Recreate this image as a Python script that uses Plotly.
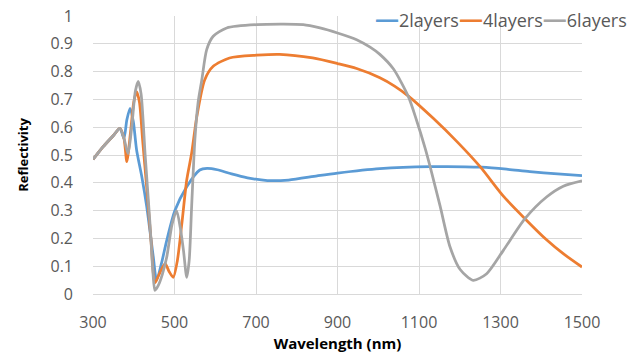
import plotly.graph_objects as go

# 2layers
wl_2 = [300, 325, 350, 366, 376, 383, 391, 399, 407, 420, 432, 448, 456, 468, 481, 501, 530, 562, 580, 605, 640, 679, 728, 780, 850, 900, 1004, 1127, 1254, 1315, 1372, 1440, 1500]
r_2 = [0.484, 0.53, 0.57, 0.596, 0.56, 0.626, 0.668, 0.62, 0.518, 0.42, 0.313, 0.133, 0.049, 0.11, 0.193, 0.30, 0.386, 0.446, 0.452, 0.447, 0.432, 0.418, 0.408, 0.41, 0.425, 0.435, 0.451, 0.458, 0.456, 0.449, 0.44, 0.432, 0.426]

# 4layers
wl_4 = [300, 325, 350, 366, 376, 383, 392, 400, 407, 414, 422, 432, 442, 452, 462, 477, 487, 497, 507, 518, 530, 542, 555, 574, 595, 635, 702, 758, 839, 900, 947, 1004, 1040, 1074, 1135, 1192, 1250, 1307, 1360, 1413, 1454, 1500]
r_4 = [0.484, 0.53, 0.57, 0.596, 0.56, 0.476, 0.58, 0.69, 0.728, 0.69, 0.55, 0.38, 0.20, 0.04, 0.07, 0.109, 0.08, 0.06, 0.12, 0.253, 0.41, 0.506, 0.64, 0.77, 0.819, 0.849, 0.859, 0.862, 0.849, 0.829, 0.811, 0.778, 0.748, 0.712, 0.632, 0.55, 0.458, 0.352, 0.271, 0.195, 0.145, 0.097]

# 6layers
wl_6 = [300, 325, 350, 366, 376, 386, 395, 404, 411, 418, 428, 440, 447, 452, 460, 470, 481, 494, 505, 514, 522, 530, 536, 542, 550, 558, 567, 579, 595, 628, 702, 816, 857, 900, 947, 980, 1004, 1037, 1074, 1094, 1115, 1127, 1152, 1176, 1201, 1233, 1266, 1307, 1360, 1413, 1454, 1500]
r_6 = [0.484, 0.53, 0.57, 0.596, 0.56, 0.505, 0.60, 0.73, 0.765, 0.72, 0.50, 0.25, 0.08, 0.013, 0.03, 0.07, 0.133, 0.25, 0.30, 0.24, 0.157, 0.06, 0.12, 0.313, 0.554, 0.69, 0.77, 0.879, 0.927, 0.957, 0.969, 0.969, 0.957, 0.939, 0.915, 0.888, 0.862, 0.81, 0.71, 0.625, 0.525, 0.46, 0.315, 0.17, 0.088, 0.049, 0.073, 0.157, 0.271, 0.349, 0.388, 0.407]

x_ticks = [300, 500, 700, 900, 1100, 1300, 1500]
y_ticks = [0, 0.1, 0.2, 0.3, 0.4, 0.5, 0.6, 0.7, 0.8, 0.9, 1]
y_tick_text = ["0", "0.1", "0.2", "0.3", "0.4", "0.5", "0.6", "0.7", "0.8", "0.9", "1"]

series = [
    ("2layers", wl_2, r_2, "#5B9BD5"),
    ("4layers", wl_4, r_4, "#ED7D31"),
    ("6layers", wl_6, r_6, "#A5A5A5"),
]

fig = go.Figure()
for name, x, y, c in series:
    fig.add_trace(go.Scatter(x=x, y=y, name=name, mode="lines", showlegend=False,
                             line=dict(color=c, width=2.75, shape="spline", smoothing=0.7)))

# legend drawn as one line of text (Excel-style compact legend)
legend_html = "".join(
    f'<span style="color:{c};font-size:24px"><b>—</b></span>{name}' for name, _, _, c in series
)
fig.add_annotation(text=legend_html, xref="paper", yref="paper",
                   x=(629 - 93) / 489, y=1.0 - 1.5 / 277.5, xanchor="right", yanchor="middle",
                   showarrow=False, font=dict(size=18, color="#595959"))

font_family = "Open Sans, Liberation Sans, sans-serif"
fig.update_layout(
    width=631, height=358,
    margin=dict(l=93, r=49, t=16, b=64, autoexpand=False),
    paper_bgcolor="white", plot_bgcolor="white",
    font=dict(family=font_family, color="#595959", size=16),
    showlegend=False,
    xaxis=dict(range=[300, 1500], tickvals=x_ticks, showgrid=True, gridcolor="#D9D9D9",
               gridwidth=1, zeroline=False, showline=True, linecolor="#D9D9D9",
               ticks="", ticklabelstandoff=14, tickfont=dict(size=16, color="#595959"),
               title=dict(text="<b>Wavelength (nm)</b>", font=dict(size=15, color="#000000"), standoff=4)),
    yaxis=dict(range=[0, 1], tickvals=y_ticks, ticktext=y_tick_text, showgrid=True,
               gridcolor="#D9D9D9", gridwidth=1, zeroline=False, showline=False,
               ticks="", ticklabelstandoff=19, tickfont=dict(size=16, color="#595959"),
               title=dict(text="<b>Reflectivity</b>", font=dict(size=13, color="#000000"), standoff=18)),
)

fig.write_html("out.html")
